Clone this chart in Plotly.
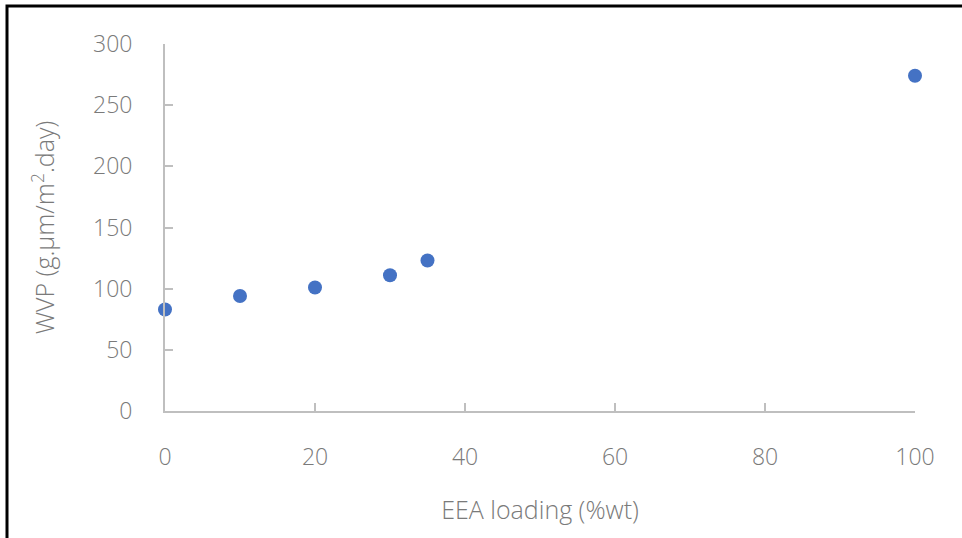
import plotly.graph_objects as go

# EEA loading (%wt) vs water vapour permeability
eea_loading = [0, 10, 20, 30, 35, 100]
wvp = [83, 94, 101, 111, 123, 274]

x_ticks = [0, 20, 40, 60, 80, 100]
y_ticks = [0, 50, 100, 150, 200, 250, 300]

axis_grey = "#bfbfbf"
text_grey = "#7a7a7a"
font_family = "Open Sans"
tick_font = dict(size=23, color=text_grey, family=font_family, weight=300)
title_font = dict(size=25, color=text_grey, family=font_family, weight=300)

fig = go.Figure()
fig.add_trace(go.Scatter(
    x=eea_loading, y=wvp, mode="markers", cliponaxis=False,
    marker=dict(color="#4472C4", size=14, line=dict(width=0)),
    showlegend=False,
))

fig.update_layout(
    width=962, height=538,
    margin=dict(l=165, r=47, t=44, b=127),
    paper_bgcolor="white", plot_bgcolor="white",
    font=dict(family=font_family, color=text_grey, size=23, weight=300),
    xaxis=dict(
        range=[0, 100], tickvals=x_ticks, showgrid=False, zeroline=False,
        showline=True, linecolor=axis_grey, linewidth=2,
        ticks="inside", ticklen=8, tickwidth=2, tickcolor=axis_grey,
        tickfont=tick_font, ticklabelstandoff=24,
        title=dict(text="EEA loading (%wt)", standoff=31, font=title_font),
    ),
    yaxis=dict(
        range=[0, 300], tickvals=y_ticks, showgrid=False, zeroline=False,
        showline=True, linecolor=axis_grey, linewidth=2,
        ticks="inside", ticklen=8, tickwidth=2, tickcolor=axis_grey,
        tickfont=tick_font, ticklabelstandoff=26,
        title=dict(text="WVP (g.μm/m<sup>2</sup>.day)", standoff=31, font=title_font),
    ),
)

# Frame lines along the left and top edges
px_w, px_h = 750, 367
def px_to_paper(px, py):
    return (px - 165) / px_w, (411 - py) / px_h

x0, y0 = px_to_paper(7, 540)
x1, y1 = px_to_paper(7, 6)
x2, y2 = px_to_paper(964, 6)
fig.add_shape(type="path", xref="paper", yref="paper",
              path=f"M {x0} {y0} L {x1} {y1} L {x2} {y2}",
              line=dict(color="black", width=3))

fig.write_html("out.html")
